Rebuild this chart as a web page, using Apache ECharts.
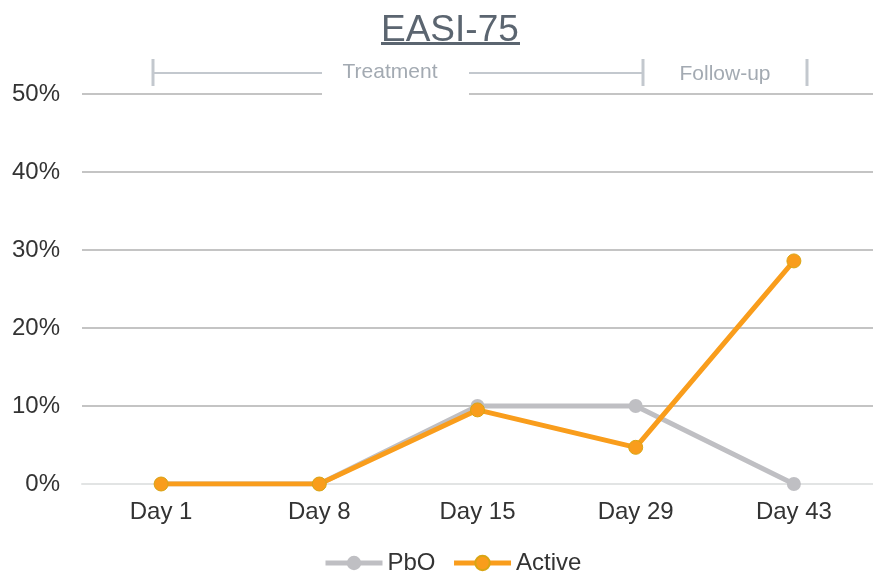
<!DOCTYPE html>
<html>
<head>
<meta charset="utf-8">
<script src="https://cdn.jsdelivr.net/npm/echarts@6/dist/echarts.min.js"></script>
<style>
  html, body { margin: 0; padding: 0; background: #fff; }
  #main { width: 873px; height: 573px; }
</style>
</head>
<body>
<div id="main"></div>
<script>
// data
const days = ['Day 1', 'Day 8', 'Day 15', 'Day 29', 'Day 43'];
const pboValues = [0, 0, 10, 10, 0];
const activeValues = [0, 0, 9.5, 4.7, 28.6];
const yTicks = [0, 10, 20, 30, 40, 50];

const chart = echarts.init(document.getElementById('main'), null, { renderer: 'canvas' });
const font = 'Liberation Sans, Arial, sans-serif';
const bracketColor = '#c3c8ce';

const option = {
  animation: false,
  title: {
    text: 'EASI-75',
    left: 376,
    top: 7,
    textStyle: { fontFamily: font, fontSize: 37, fontWeight: 'normal', color: '#5b6570' }
  },
  legend: {
    bottom: -7,
    left: 318,
    itemWidth: 57,
    itemHeight: 18,
    itemGap: 16,
    lineStyle: { width: 5 },
    textStyle: { fontFamily: font, fontSize: 24, color: '#333' },
    data: ['PbO', 'Active']
  },
  grid: { left: 82, right: 0, top: 94, bottom: 89 },
  xAxis: {
    type: 'category',
    data: days,
    boundaryGap: true,
    axisLine: { lineStyle: { color: '#e2e4e4', width: 2 } },
    axisTick: { show: false },
    axisLabel: { fontFamily: font, fontSize: 24, color: '#333', margin: 16 }
  },
  yAxis: {
    type: 'value',
    min: yTicks[0],
    max: yTicks[yTicks.length - 1],
    interval: 10,
    axisLine: { show: false },
    axisTick: { show: false },
    axisLabel: { fontFamily: font, fontSize: 24, color: '#333', margin: 22, formatter: '{value}%' },
    splitLine: { lineStyle: { color: '#c4c4c4', width: 2 } }
  },
  series: [
    {
      name: 'PbO',
      type: 'line',
      data: pboValues,
      symbol: 'circle',
      symbolSize: 14,
      lineStyle: { color: '#bfbfc3', width: 5 },
      itemStyle: { color: '#bfbfc3' }
    },
    {
      name: 'Active',
      type: 'line',
      data: activeValues,
      symbol: 'circle',
      symbolSize: 14,
      lineStyle: { color: '#f99d1c', width: 5 },
      itemStyle: { color: '#f99d1c', borderColor: '#d9a514', borderWidth: 1 }
    }
  ],
  graphic: [
    // title underline
    { type: 'rect', shape: { x: 381, y: 42, width: 139, height: 3 }, style: { fill: '#5b6570' } },
    // white gap behind "Treatment"
    { type: 'rect', shape: { x: 322, y: 62, width: 147, height: 34 }, style: { fill: '#fff' }, z: 10 },
    { type: 'line', shape: { x1: 153, y1: 59, x2: 153, y2: 86 }, style: { stroke: bracketColor, lineWidth: 3 }, z: 11 },
    { type: 'line', shape: { x1: 153, y1: 73, x2: 322, y2: 73 }, style: { stroke: bracketColor, lineWidth: 2 }, z: 11 },
    { type: 'line', shape: { x1: 469, y1: 73, x2: 643, y2: 73 }, style: { stroke: bracketColor, lineWidth: 2 }, z: 11 },
    { type: 'line', shape: { x1: 643, y1: 59, x2: 643, y2: 86 }, style: { stroke: bracketColor, lineWidth: 3 }, z: 11 },
    { type: 'line', shape: { x1: 807, y1: 59, x2: 807, y2: 86 }, style: { stroke: bracketColor, lineWidth: 3 }, z: 11 },
    { type: 'text', x: 390, y: 72, style: { text: 'Treatment', fill: '#a3aab2', font: '21px ' + font, align: 'center', verticalAlign: 'middle' }, z: 11 },
    { type: 'text', x: 725, y: 74, style: { text: 'Follow-up', fill: '#a3aab2', font: '21px ' + font, align: 'center', verticalAlign: 'middle' }, z: 11 }
  ]
};

chart.setOption(option);
</script>
</body>
</html>
